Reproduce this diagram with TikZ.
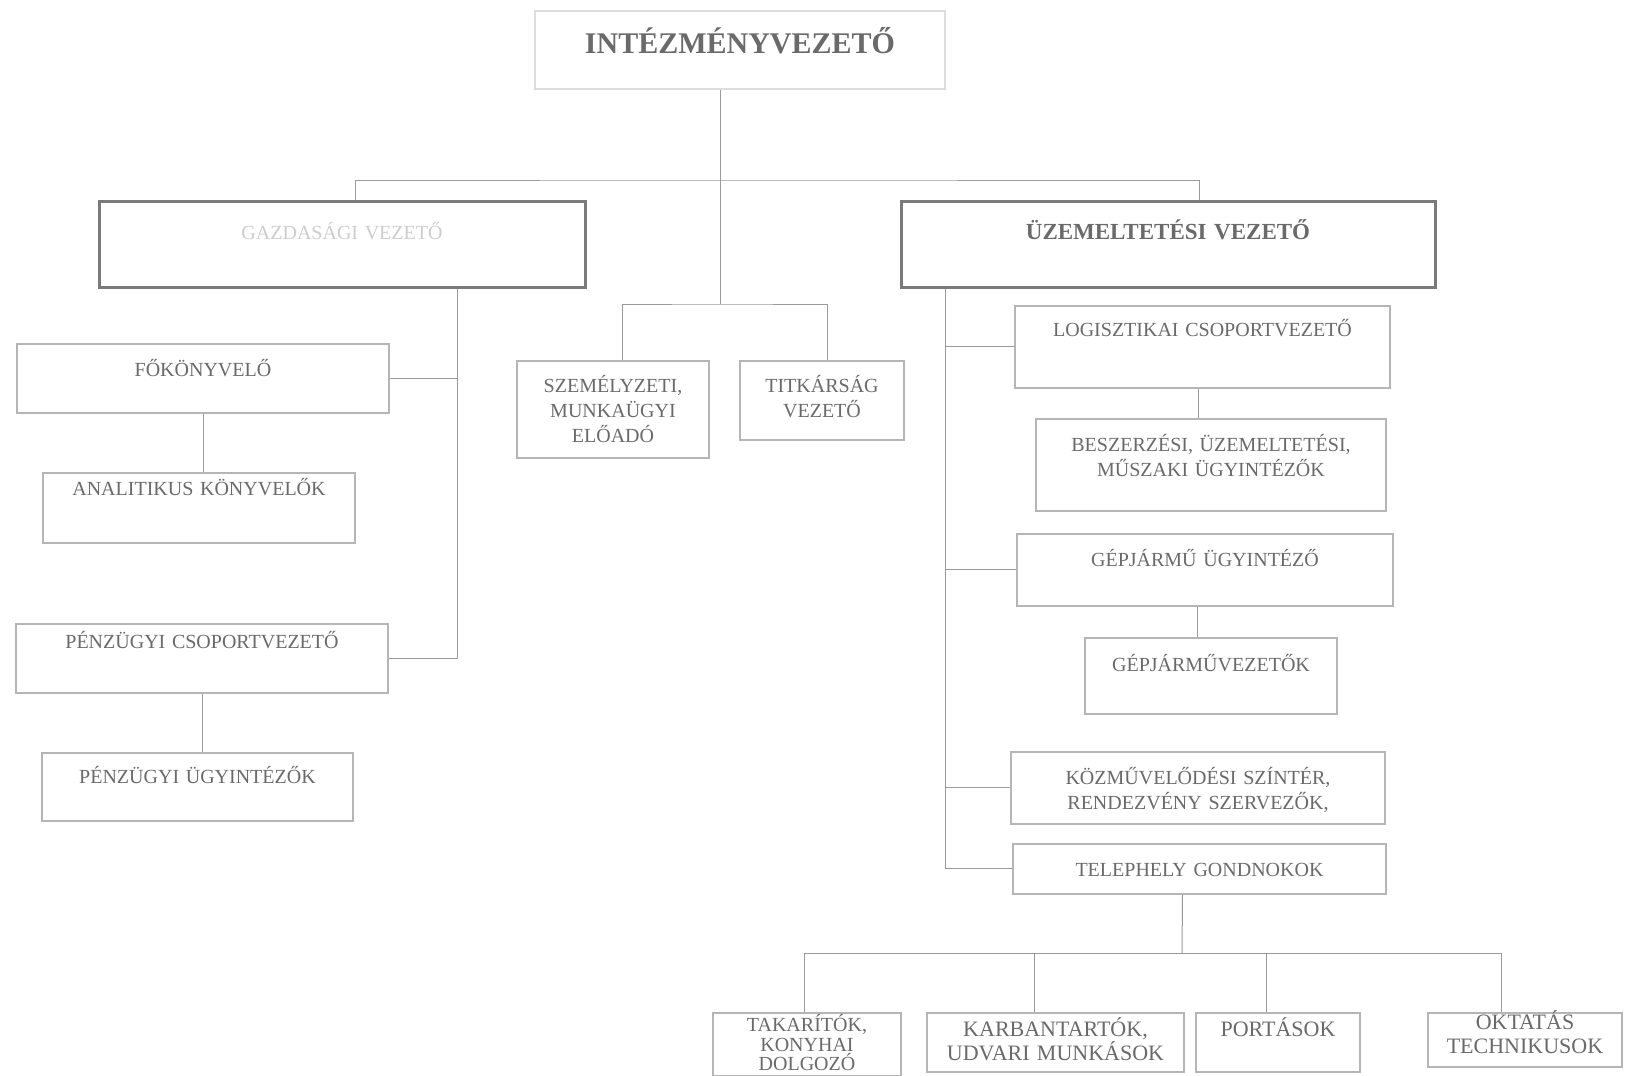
\documentclass[tikz,border=0pt]{standalone}
\usepackage{fontspec}
\setmainfont{Liberation Serif}
\usetikzlibrary{positioning}
\definecolor{txtgray}{HTML}{6A6A6A}
\definecolor{linegray}{HTML}{9A9A9A}
\definecolor{boxgray}{HTML}{B5B5B5}
\definecolor{headgray}{HTML}{7A7A7A}
\definecolor{palegray}{HTML}{DCDCDC}
\definecolor{fadegray}{HTML}{CDCDCD}

\begin{document}
\begin{tikzpicture}[
  x=1pt, y=-1pt,
  box/.style={draw=boxgray, line width=1.8pt, anchor=north, inner sep=0pt,
    align=center, text=txtgray, font=\fontsize{20}{25}\selectfont},
  head/.style={box, draw=headgray, line width=3pt},
  low/.style={box, font=\fontsize{22}{24}\selectfont},
  link/.style={draw=linegray, line width=1pt}
]
\useasboundingbox (0,0) rectangle (1628,1076);
\fill[white] (0,0) rectangle (1628,1076);

% top level
\node[box, draw=palegray, line width=1.5pt, text width=410pt, text height=43pt, text depth=35pt,
  font=\fontsize{30}{36}\selectfont\bfseries] (int) at (740,10) {INTÉZMÉNYVEZETŐ};
\node[head, text width=486pt, text height=38pt, text depth=48pt, text=fadegray] (gazd) at (342,200) {GAZDASÁGI VEZETŐ};
\node[head, text width=534pt, text height=38pt, text depth=48pt,
  font=\fontsize{23}{28}\selectfont\bfseries] (uzem) at (1168,200) {ÜZEMELTETÉSI VEZETŐ};

% middle
\node[box, text width=192pt, text height=32pt, text depth=65pt] (szem) at (613,360) {SZEMÉLYZETI,\\MUNKAÜGYI\\ELŐADÓ};
\node[box, text width=164pt, text height=32pt, text depth=47pt] (titk) at (822,360) {TITKÁRSÁG\\VEZETŐ};

% left branch
\node[box, text width=372pt, text height=33pt, text depth=36pt] (fok) at (203,343) {FŐKÖNYVELŐ};
\node[box, text width=312pt, text height=23pt, text depth=47pt] (anal) at (199,472) {ANALITIKUS KÖNYVELŐK};
\node[box, text width=372pt, text height=25pt, text depth=44pt] (pcsop) at (202,623) {PÉNZÜGYI CSOPORTVEZETŐ};
\node[box, text width=311pt, text height=31pt, text depth=37pt] (pugy) at (197.5,752) {PÉNZÜGYI ÜGYINTÉZŐK};

% right branch
\node[box, text width=375pt, text height=31pt, text depth=51pt] (logi) at (1202.5,305) {LOGISZTIKAI CSOPORTVEZETŐ};
\node[box, text width=350pt, text height=33pt, text depth=59pt] (besz) at (1211,418) {BESZERZÉSI, ÜZEMELTETÉSI,\\MŰSZAKI ÜGYINTÉZŐK};
\node[box, text width=376pt, text height=33pt, text depth=39pt] (gepu) at (1205,533) {GÉPJÁRMŰ ÜGYINTÉZŐ};
\node[box, text width=252pt, text height=34pt, text depth=42pt] (gepv) at (1211,637) {GÉPJÁRMŰVEZETŐK};
\node[box, text width=374pt, text height=33pt, text depth=39pt] (kozm) at (1198,751) {KÖZMŰVELŐDÉSI SZÍNTÉR,\\RENDEZVÉNY SZERVEZŐK,};
\node[box, text width=373pt, text height=33pt, text depth=17pt] (tele) at (1199.5,843) {TELEPHELY GONDNOKOK};

% bottom row
\node[low, text width=188pt, text height=19pt, text depth=44pt,
  font=\fontsize{20}{19.5}\selectfont] (tak) at (807,1012) {TAKARÍTÓK,\\KONYHAI\\DOLGOZÓ};
\node[low, text width=257pt, text height=24pt, text depth=35pt] (karb) at (1055.5,1012) {KARBANTARTÓK,\\UDVARI MUNKÁSOK};
\node[low, text width=164pt, text height=24pt, text depth=35pt] (port) at (1278,1012) {PORTÁSOK};
\node[low, text width=194pt, text height=17pt, text depth=37pt] (okt) at (1525,1012) {OKTATÁS\\TECHNIKUSOK};

% connectors
\coordinate (hub) at (720,180);
\coordinate (midhub) at (720,304);
\coordinate (gdrop) at ([xshift=115pt]gazd.south);
\coordinate (udrop) at ([xshift=-223pt]uzem.south);
\coordinate (tbar) at (1182,953);

\draw[link] ([xshift=-20pt]int.south) -- (midhub);
\draw[link] ([xshift=13pt]gazd.north) |- (hub) -| ([xshift=31pt]uzem.north);
\draw[link] ([xshift=9pt]szem.north) |- (midhub) -| ([xshift=5pt]titk.north);

\draw[link] (gdrop) |- (pcsop.east);
\draw[link] (fok.east) -- (fok.east -| gdrop);
\draw[link] (fok.south) -- (fok.south |- anal.north);
\draw[link] (pcsop.south) -- (pcsop.south |- pugy.north);

\draw[link] (udrop) |- (tele.west);
\draw[link] (logi.west) -- (logi.west -| udrop);
\draw[link] (gepu.west) -- (gepu.west -| udrop);
\draw[link] (kozm.west) -- (kozm.west -| udrop);
\draw[link] ([xshift=-4pt]logi.south) -- ([xshift=-4pt]logi.south |- besz.north);
\draw[link] ([xshift=-8pt]gepu.south) -- ([xshift=-8pt]gepu.south |- gepv.north);

\draw[link] ([xshift=-17pt]tele.south) -- (tbar);
\draw[link] ([xshift=-3pt]tak.north) |- (tbar) -| ([xshift=-24pt]okt.north);
\draw[link] ([xshift=-21pt]karb.north) -- ([xshift=-21pt]karb.north |- tbar);
\draw[link] ([xshift=-12pt]port.north) -- ([xshift=-12pt]port.north |- tbar);
\end{tikzpicture}
\end{document}
